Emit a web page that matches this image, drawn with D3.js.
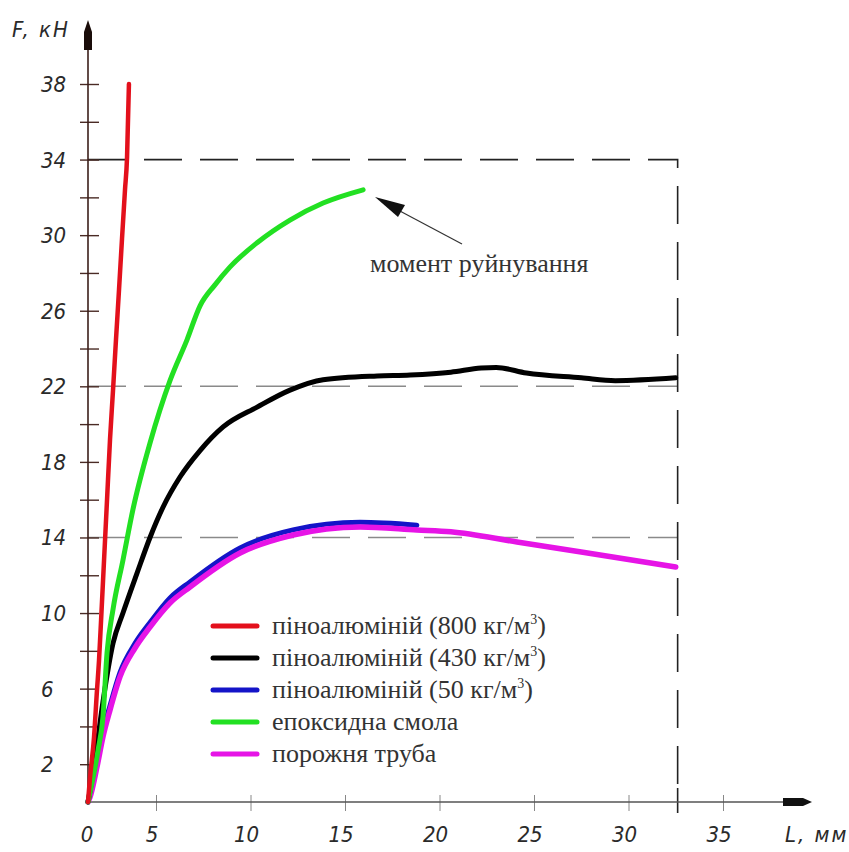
<!DOCTYPE html>
<html><head><meta charset="utf-8">
<script src="https://cdn.jsdelivr.net/npm/d3@7"></script>
<style>
html,body{margin:0;padding:0;background:#fff;}
svg{display:block;}
.tick-lab{font-family:"DejaVu Sans",sans-serif;font-stretch:condensed;font-style:italic;font-size:22px;fill:#2a2a2a;}
.title-lab{font-family:"DejaVu Sans",sans-serif;font-stretch:condensed;font-style:italic;font-size:22px;fill:#2a2a2a;letter-spacing:2px;}
.serif{font-family:"Liberation Serif","Times New Roman",serif;font-size:26px;fill:#333;}
</style>
</head><body>
<script>
// ---- data ----
const xTickValues = [5, 10, 15, 20, 25, 30, 35];
const xTickLabels = ["5", "10", "15", "20", "25", "30", "35"];
const yTickValues = [2,4,6,8,10,12,14,16,18,20,22,24,26,28,30,32,34,36,38];
const yTickLabels = ["2","","6","","10","","14","","18","","22","","26","","30","","34","","38"];
const refLevels = [22, 14];
const boxLevel = 34;
const boxEndL = 32.6;

const seriesNames = ["піноалюміній (800 кг/м", "піноалюміній (430 кг/м", "піноалюміній (50 кг/м", "епоксидна смола", "порожня труба"];
const seriesSup = ["3", "3", "3", "", ""];
const seriesColors = ["#e3101c", "#000000", "#1414c8", "#22e022", "#e614e6"];

const redL = [0, 0.15, 0.44, 0.66, 0.81, 0.96, 1.18, 1.40, 1.62, 1.84, 2.06, 2.28, 2.50, 2.72, 2.87, 3.01];
const redF = [0, 1.3, 3.4, 5.9, 7.5, 9.6, 12.8, 16.0, 19.2, 21.8, 24.5, 27.1, 29.8, 32.4, 34.1, 38.0];

const blackL = [0, 0.29, 0.66, 1.10, 1.84, 2.57, 3.60, 4.56, 5.37, 6.27, 7.33, 8.55, 10.35, 12.09, 13.84, 16.7, 18.45, 20.6, 22.2, 23.0, 24.6, 27.5, 29.3, 32.5];
const blackF = [0, 1.2, 3.0, 5.3, 8.4, 10.0, 12.1, 14.0, 15.6, 17.2, 18.6, 19.85, 20.9, 21.8, 22.35, 22.55, 22.6, 22.75, 22.97, 23.0, 22.7, 22.45, 22.3, 22.45];

const blueL = [0, 0.15, 0.66, 1.10, 1.62, 2.35, 3.46, 4.56, 5.74, 6.80, 9.45, 12.25, 15.8, 18.8];
const blueF = [0, 0.4, 2.1, 3.7, 5.1, 6.85, 8.4, 9.5, 10.8, 11.65, 13.45, 14.4, 14.8, 14.65];

const greenL = [0, 0.74, 1.10, 1.40, 1.84, 2.57, 3.31, 4.56, 5.74, 6.64, 7.33, 8.12, 8.92, 10.35, 12.09, 13.84, 15.96];
const greenF = [0, 2.75, 4.5, 7.9, 10.2, 12.8, 15.5, 19.0, 22.3, 24.46, 26.26, 27.37, 28.32, 29.6, 30.8, 31.7, 32.4];

const magentaL = [0, 0.15, 0.66, 1.10, 1.62, 2.35, 3.46, 4.56, 5.74, 6.80, 9.45, 12.25, 15.8, 18.8, 20.6, 24.1, 27.5, 32.5];
const magentaF = [0, 0.26, 1.85, 3.44, 4.87, 6.62, 8.15, 9.26, 10.53, 11.38, 13.18, 14.13, 14.56, 14.4, 14.3, 13.76, 13.23, 12.44];

const annotationText = "момент руйнування";
const yAxisTitle = "F, кН";
const xAxisTitle = "L, мм";

// ---- drawing ----
const W = 849, H = 852;
const svg = d3.select("body").append("svg").attr("width", W).attr("height", H);

const x = d3.scaleLinear().domain([0, 5, 35]).range([88, 156, 723]);
const y = d3.scaleLinear().domain([0, 38]).range([802, 84]);

const x0 = x(0), y0 = y(0);

// reference dashed lines
refLevels.forEach(v => {
  svg.append("line").attr("x1", x0).attr("x2", x(boxEndL)).attr("y1", y(v)).attr("y2", y(v))
    .attr("stroke", "#8a8a8a").attr("stroke-width", 1.6).attr("stroke-dasharray", "38,18");
});
svg.append("path")
  .attr("d", `M${x0},${y(boxLevel)}H${x(boxEndL)}V${y0}`)
  .attr("fill", "none").attr("stroke", "#222").attr("stroke-width", 1.6).attr("stroke-dasharray", "38,18");
svg.append("line").attr("x1", x(boxEndL)).attr("x2", x(boxEndL)).attr("y1", y0 - 14).attr("y2", y0 + 11)
  .attr("stroke", "#222").attr("stroke-width", 1.6);

// x axis
const xAxis = d3.axisBottom(x).tickValues(xTickValues).tickSize(0).tickFormat("");
const gx = svg.append("g").attr("transform", `translate(0,${y0})`).call(xAxis);
gx.select(".domain").remove();
gx.selectAll(".tick line").attr("y1", -7).attr("y2", 9).attr("stroke", "#888").attr("stroke-width", 1);
svg.append("line").attr("x1", x0).attr("x2", 790).attr("y1", y0).attr("y2", y0).attr("stroke", "#555").attr("stroke-width", 1.5);
svg.append("path").attr("d", `M783,${y0-4}L803,${y0-4}L812,${y0}L803,${y0+4}L783,${y0+4}Z`).attr("fill", "#111");
svg.selectAll(".xlab").data(xTickValues).enter().append("text").attr("class", "tick-lab")
  .attr("x", d => x(d) - 4).attr("y", 842).attr("text-anchor", "middle").text((d, i) => xTickLabels[i]);
svg.append("text").attr("class", "tick-lab").attr("x", x0 - 1).attr("y", 842).attr("text-anchor", "middle").text("0");
svg.append("text").attr("class", "title-lab").attr("x", 785).attr("y", 842).text(xAxisTitle);

// y axis
const yAxis = d3.axisLeft(y).tickValues(yTickValues).tickSize(0).tickFormat("");
const gy = svg.append("g").attr("transform", `translate(${x0},0)`).call(yAxis);
gy.select(".domain").remove();
gy.selectAll(".tick line").attr("x1", -8).attr("x2", 11).attr("stroke", "#4a2b25").attr("stroke-width", 1.4);
svg.append("line").attr("x1", x0).attr("x2", x0).attr("y1", y0).attr("y2", 45).attr("stroke", "#3b1f1a").attr("stroke-width", 1.6);
svg.append("path").attr("d", `M${x0-4},50L${x0-4},32L${x0},20L${x0+4},32L${x0+4},50Z`).attr("fill", "#1a0d0a");
svg.selectAll(".ylab").data(yTickValues.filter((d, i) => yTickLabels[i] !== "")).enter().append("text")
  .attr("class", "tick-lab").attr("x", 41).attr("y", d => y(d) + 8)
  .text(d => yTickLabels[yTickValues.indexOf(d)]);
svg.append("text").attr("class", "title-lab").attr("x", 12).attr("y", 37).text(yAxisTitle);

// series
const line = d3.line().x(d => x(d[0])).y(d => y(d[1])).curve(d3.curveMonotoneX);
const zip = (a, b) => a.map((v, i) => [v, b[i]]);
const drawSeries = (L, F, color, w) => svg.append("path").attr("d", line(zip(L, F)))
  .attr("fill", "none").attr("stroke", color).attr("stroke-width", w)
  .attr("stroke-linecap", "round").attr("stroke-linejoin", "round");

drawSeries(blueL, blueF, seriesColors[2], 5);
drawSeries(magentaL, magentaF, seriesColors[4], 5.5);
drawSeries(blackL, blackF, seriesColors[1], 5);
drawSeries(greenL, greenF, seriesColors[3], 5);
drawSeries(redL, redF, seriesColors[0], 4.5);

// annotation
svg.append("line").attr("x1", 462).attr("y1", 244).attr("x2", 398).attr("y2", 210)
  .attr("stroke", "#333").attr("stroke-width", 1.2);
svg.append("path").attr("d", "M375,197L405,205L398,217Z").attr("fill", "#111");
svg.append("text").attr("class", "serif").attr("x", 370).attr("y", 272).text(annotationText);

// legend
const lg = svg.append("g");
seriesNames.forEach((name, i) => {
  const cy = 626 + i * 32;
  lg.append("line").attr("x1", 213).attr("x2", 257).attr("y1", cy).attr("y2", cy)
    .attr("stroke", seriesColors[i]).attr("stroke-width", 5).attr("stroke-linecap", "round");
  const t = lg.append("text").attr("class", "serif").attr("x", 272).attr("y", cy + 8).text(name);
  if (seriesSup[i]) {
    t.append("tspan").attr("font-size", "14px").attr("dy", -10).text(seriesSup[i]);
    t.append("tspan").attr("dy", 10).text(")");
  }
});
</script>
</body></html>
